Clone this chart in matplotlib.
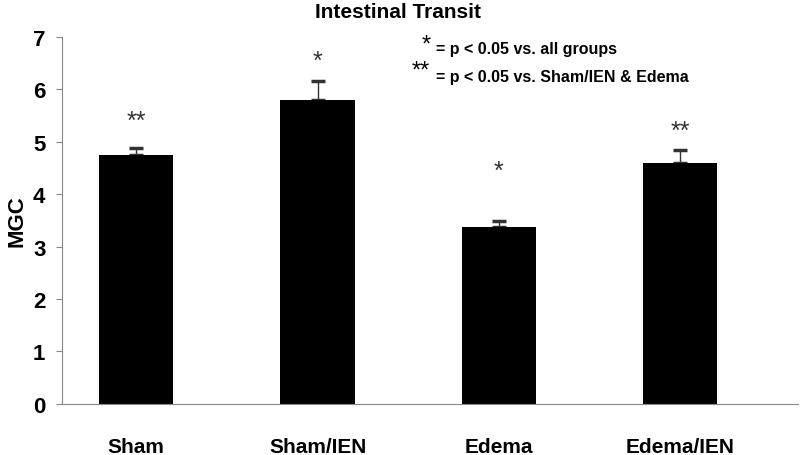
import matplotlib
matplotlib.use("Agg")
import matplotlib.pyplot as plt
from matplotlib import font_manager

categories = ["Sham", "Sham/IEN", "Edema", "Edema/IEN"]
means = [4.75, 5.8, 3.38, 4.6]
errors = [0.13, 0.35, 0.10, 0.25]
sig_labels = ["**", "*", "*", "**"]
sig_heights = [5.4, 6.55, 4.45, 5.2]
yticks = [0, 1, 2, 3, 4, 5, 6, 7]

names = {f.name for f in font_manager.fontManager.ttflist}
fam = ["Liberation Sans Narrow", "Liberation Sans", "DejaVu Sans"]
fam = [f for f in fam if f in names] + ["DejaVu Sans"]
plt.rcParams['font.family'] = fam

fig = plt.figure(figsize=(8, 4.56), dpi=100)
ax = fig.add_axes([0.0775, 0.112, 0.92, 0.805])
x = list(range(len(categories)))
ax.bar(x, means, width=0.41, color="black", zorder=2)
ax.errorbar(x, means, yerr=[[0]*len(errors), errors], fmt="none",
            ecolor="#333333", elinewidth=1.0, capsize=5, capthick=2.5, zorder=1)
for xi, lab, h in zip(x, sig_labels, sig_heights):
    ax.text(xi, h, lab, ha="center", va="center", fontsize=18, color="#333333")

ax.set_xlim(-0.41, 3.65)
ax.set_ylim(0, 7)
ax.set_yticks(yticks)
ax.set_xticks(x)
ax.set_xticklabels(categories, fontsize=15, fontweight="bold")
ax.tick_params(axis="x", length=0, pad=24)
ax.tick_params(axis="y", length=4, direction="out", labelsize=16, width=0.8, colors="#888888",
               labelcolor="black", pad=8)
for t in ax.get_yticklabels():
    t.set_fontweight("bold")
ax.spines["top"].set_visible(False)
ax.spines["right"].set_visible(False)
ax.spines["left"].set_color("#888888")
ax.spines["bottom"].set_color("#888888")
ax.set_ylabel("MGC", fontsize=16, fontweight="bold", labelpad=4)
fig.text(0.497, 0.972, "Intestinal Transit", ha="center", va="center",
         fontsize=15, fontweight="bold")
fig.text(0.527, 0.9, "*", fontsize=17, ha="left", va="center")
fig.text(0.545, 0.892, "= p < 0.05 vs. all groups", fontsize=11.5, fontweight="bold",
         ha="left", va="center")
fig.text(0.515, 0.843, "**", fontsize=17, ha="left", va="center")
fig.text(0.545, 0.830, "= p < 0.05 vs. Sham/IEN & Edema", fontsize=11.5, fontweight="bold",
         ha="left", va="center")
fig.savefig("out.png", dpi=100)
